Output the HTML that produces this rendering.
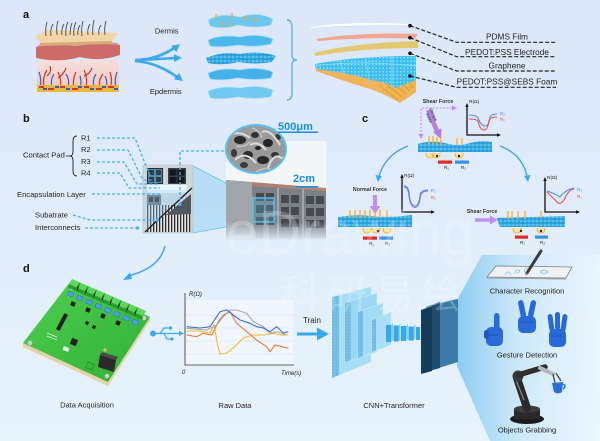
<!DOCTYPE html>
<html><head><meta charset="utf-8"><style>
html,body{margin:0;padding:0;background:#e0ebf9;}
svg{display:block;}
text{font-family:"Liberation Sans",Arial,sans-serif;}
</style></head><body>
<svg width="600" height="441" viewBox="0 0 600 441" xmlns="http://www.w3.org/2000/svg">
<defs>
<linearGradient id="bg" x1="0" y1="0" x2="0" y2="1">
<stop offset="0" stop-color="#dbe6f8"/><stop offset="0.5" stop-color="#e1edfa"/><stop offset="1" stop-color="#e6f3fb"/>
</linearGradient>
<pattern id="foam" width="4" height="4" patternUnits="userSpaceOnUse">
<rect width="4" height="4" fill="#2ea6e0"/><circle cx="1" cy="1" r="0.8" fill="#8edcf9"/><circle cx="3" cy="3" r="0.6" fill="#1b86c6"/><circle cx="3" cy="1" r="0.4" fill="#bfeafc"/>
</pattern>
<pattern id="dots" width="3.5" height="3.5" patternUnits="userSpaceOnUse">
<rect width="3.5" height="3.5" fill="#3cc0ef"/><circle cx="1.7" cy="1.7" r="0.8" fill="#9fe2fa"/>
</pattern>
<pattern id="stripes" width="3" height="3" patternUnits="userSpaceOnUse">
<rect width="3" height="3" fill="#e8e8e8"/><rect width="1.3" height="3" fill="#2a2a2a"/>
</pattern>
<pattern id="grid" width="3" height="3" patternUnits="userSpaceOnUse">
<rect width="3" height="3" fill="#79c3e8"/><path d="M0,0H3M0,0V3" stroke="#5aa8d4" stroke-width="0.5"/>
</pattern>
<linearGradient id="beam" x1="0" y1="0" x2="1" y2="0">
<stop offset="0" stop-color="#7cc6ef" stop-opacity="0.85"/><stop offset="0.45" stop-color="#c4e6f9" stop-opacity="0.7"/><stop offset="1" stop-color="#eef8fe" stop-opacity="0.6"/>
</linearGradient>
<linearGradient id="skin" x1="0" y1="0" x2="0" y2="1">
<stop offset="0" stop-color="#f6e0dc"/><stop offset="1" stop-color="#efc7c4"/>
</linearGradient>
<linearGradient id="arm" x1="0" y1="0" x2="0" y2="1">
<stop offset="0" stop-color="#a27a6a"/><stop offset="0.4" stop-color="#c89c8a"/><stop offset="1" stop-color="#d9b4a2"/>
</linearGradient>
<linearGradient id="fade" x1="0" y1="0" x2="0" y2="1">
<stop offset="0" stop-color="#e0ecf8" stop-opacity="0"/><stop offset="1" stop-color="#e0ecf8" stop-opacity="1"/>
</linearGradient>
<linearGradient id="pcb" x1="0" y1="0" x2="1" y2="1">
<stop offset="0" stop-color="#4fd14f"/><stop offset="1" stop-color="#2fae35"/>
</linearGradient>
<clipPath id="sem"><ellipse cx="256" cy="149" rx="30" ry="24"/></clipPath>
</defs>

<rect width="600" height="441" fill="url(#bg)"/>

<!-- ============ PANEL A ============ -->
<text x="23" y="18" font-size="11" font-weight="bold" fill="#111">a</text>

<path d="M37,62 Q58,57 78,62 Q98,58 119,60 L119,87 L37,89 Z" fill="url(#skin)"/>
<path d="M44,88 Q42,78 47,70 M47,76 Q52,72 50,66 M60,88 Q62,80 58,72 M58,78 Q64,74 66,68 M74,88 Q72,80 76,72 M86,88 Q88,78 84,70 M84,76 Q90,74 92,68 M100,88 Q98,80 103,74 M110,88 Q113,80 110,72" stroke="#c9372c" stroke-width="1.2" fill="none"/>
<path d="M40,88 Q42,80 39,72 M52,88 Q50,80 54,74 M68,88 Q70,80 66,74 M80,88 Q82,82 80,76 M94,88 Q92,80 96,74 M106,88 Q108,82 105,76 M116,88 Q114,80 117,72" stroke="#3563cf" stroke-width="1.2" fill="none"/>
<rect x="37" y="85" width="82" height="7" fill="#e9b93d"/>
<path d="M39,87 h5 M48,89 h6 M60,87 h5 M72,89 h6 M84,87 h5 M96,89 h6 M108,87 h6" stroke="#d8322a" stroke-width="2"/>
<path d="M43,89 h4 M55,87 h4 M66,89 h4 M78,87 h4 M90,89 h4 M102,87 h4 M114,89 h4" stroke="#2c5fd0" stroke-width="2"/>
<path d="M36,47 Q56,43 76,46 Q96,42 120,45 L120,55 Q100,62 80,57 Q60,63 36,58 Z" fill="#cd6b69"/>
<path d="M36,47 Q56,43 76,46 Q96,42 120,45 L117,43 Q96,40 76,43 Q56,41 40,44 Z" fill="#e19a93"/>
<path d="M35,36 L48,30 L118,33 L112,41 L40,43 Z" fill="#f3d5a8"/>
<path d="M40,43 L112,41 L112,44 L40,46 Z" fill="#d6ad78"/>
<path d="M46,36 Q45,28 47,22 M51,36 Q50,29 53,24 M57,35 Q56,27 58,21 M62,35 Q61,29 64,24 M66,36 Q65,28 68,22 M70,35 Q70,29 72,23 M74,36 Q73,28 76,22 M78,35 Q77,30 80,25 M82,36 Q81,28 83,21 M88,35 Q87,29 90,24 M93,35 Q92,28 94,20 M99,35 Q98,29 101,25 M105,35 Q104,28 106,21" stroke="#4a4a4a" stroke-width="0.9" fill="none"/>

<text x="166.7" y="33.5" font-size="7.5" text-anchor="middle" fill="#222">Dermis</text>
<text x="165.7" y="94" font-size="7.5" text-anchor="middle" fill="#222">Epdermis</text>
<path d="M135,60 C150,60 164,55 174,48" stroke="#3aa8ea" stroke-width="2.6" fill="none"/>
<polygon points="180,44 176.3,52.1 171.3,45.9" fill="#3aa8ea"/>
<path d="M137,60 C150,59 164,59 175,58" stroke="#3aa8ea" stroke-width="2.6" fill="none"/>
<polygon points="182,58 174,54 174,62" fill="#3aa8ea"/>
<path d="M135,61 C150,62 165,68 177,77" stroke="#3aa8ea" stroke-width="2.6" fill="none"/>
<polygon points="183,81 174.2,79.4 179,73" fill="#3aa8ea"/>

<path d="M208,20 Q222,12 240,17 Q258,11 273,19 L271,25 Q255,29 238,25 Q222,30 210,26 Z" fill="#6cc6ef" stroke="#a8e1f8" stroke-width="0.8"/>
<path d="M216,14 v6 M222,22 v4 M232,13 v5 M248,18 h-6 M258,20 h-6 M229,23 v4" stroke="#f2a623" stroke-width="1.2"/>
<path d="M208,40 Q222,34 240,37 Q258,33 273,39 L271,44 Q255,48 238,45 Q222,48 210,46 Z" fill="#4db8ee" stroke="#9ddcf7" stroke-width="0.8"/>
<path d="M206,58 Q222,51 240,54 Q258,50 276,56 L272,62 Q255,65 238,62 Q222,66 208,63 Z" fill="url(#foam)"/>
<path d="M208,73 Q222,67 240,70 Q258,66 273,72 L271,78 Q255,81 238,78 Q222,81 210,79 Z" fill="#45b1ea" stroke="#9ddcf7" stroke-width="0.8"/>
<path d="M208,91 Q222,85 240,88 Q258,84 273,90 L271,97 Q255,100 238,97 Q222,100 210,98 Z" fill="#71c8f1" stroke="#b0e4f9" stroke-width="0.8"/>
<path d="M287,20 Q292,20 292,28 L292,55 Q292,60 297,60 Q292,60 292,65 L292,93 Q292,100 287,100" stroke="#5ab4ea" stroke-width="1.4" fill="none"/>

<path d="M311,27 Q350,21 409,24 L409,26.5 Q350,25 312,29 Z" fill="#ffffff"/>
<path d="M312,28.5 Q350,25 409,26" stroke="#b8dcf5" stroke-width="0.8" fill="none"/>
<path d="M316,39 Q362,32 418,34 L415,38.5 Q365,37 318,41 Z" fill="#f2a58f"/>
<path d="M314,53 Q352,43 418,41 L418,48 Q362,48 316,56 Z" fill="#e3c259" opacity="0.85"/>
<path d="M315,66 Q355,58 416,57 L416,92 Q408,98 400,103 Q385,94 370,89 Q340,80 316,71 Z" fill="#f0b45c"/>
<path d="M380,86 L398,100 M386,84 L402,97 M392,82 L406,94 M398,80 L410,91 M404,78 L414,88" stroke="#d9a31f" stroke-width="1"/>
<path d="M315,64 Q355,56 416,56 L416,80 Q405,84 396,88 Q385,82 372,80 Q345,72 316,69 Z" fill="url(#dots)"/>
<path d="M340,60 L345,76 M365,57 L370,83 M392,56 L392,86 M316,66 Q355,60 416,66" stroke="#7fd9f7" stroke-width="1" fill="none"/>

<g stroke="#222" stroke-width="1.2" stroke-dasharray="4 2" fill="none">
<path d="M410,25.7 L456.7,42.3 H556"/>
<path d="M410,37.7 L456.7,56.7 H556"/>
<path d="M410,53.3 L456.7,71 H556"/>
<path d="M410,76 L456.7,87.3 H556"/>
</g>
<circle cx="410" cy="25.7" r="1.8" fill="#111"/><circle cx="410" cy="37.7" r="1.8" fill="#111"/>
<circle cx="410" cy="53.3" r="1.8" fill="#111"/><circle cx="410" cy="76" r="1.8" fill="#111"/>
<text x="507" y="39.5" font-size="8.3" text-anchor="middle" fill="#222">PDMS Film</text>
<text x="507" y="55" font-size="8.3" text-anchor="middle" fill="#222">PEDOT:PSS Electrode</text>
<text x="507" y="68.5" font-size="8.3" text-anchor="middle" fill="#222">Graphene</text>
<text x="507" y="84.5" font-size="8.3" text-anchor="middle" fill="#222">PEDOT:PSS@SEBS Foam</text>

<!-- ============ PANEL B ============ -->
<text x="23" y="122" font-size="11" font-weight="bold" fill="#111">b</text>
<text x="23" y="157.5" font-size="7.6" fill="#222">Contact Pad</text>
<path d="M66,156 H70" stroke="#222" stroke-width="0.8"/>
<path d="M77,136 Q73,136 73,141 L73,151 Q73,156 70,156 Q73,156 73,161 L73,171 Q73,176 77,176" stroke="#222" stroke-width="0.9" fill="none"/>
<text x="81" y="140.5" font-size="7.5" fill="#222">R1</text>
<text x="81" y="152" font-size="7.5" fill="#222">R2</text>
<text x="81" y="164" font-size="7.5" fill="#222">R3</text>
<text x="81" y="175.5" font-size="7.5" fill="#222">R4</text>
<text x="17" y="197" font-size="7.6" fill="#222">Encapsulation Layer</text>
<text x="35" y="217.5" font-size="7.6" fill="#222">Subatrate</text>
<text x="35" y="230" font-size="7.6" fill="#222">Interconnects</text>

<polygon points="193,166 253,197 253,222 193,233" fill="#6cc7f2" opacity="0.35"/>
<path d="M193,166 L253,197 M193,233 L253,222" stroke="#5fc1f0" stroke-width="0.8"/>

<rect x="143" y="165" width="50" height="68" fill="#cfd4d9" stroke="#b5bcc3" stroke-width="0.6"/>
<rect x="146" y="205" width="45" height="27" fill="url(#stripes)"/>
<polygon points="166,215 191,194 191,214" fill="#4f565d"/>
<rect x="147" y="168" width="16" height="16" fill="#1f2a31"/>
<rect x="148.5" y="169.5" width="6" height="6" fill="#2e3e49" stroke="#6fcaf2" stroke-width="0.6"/>
<rect x="155.5" y="169.5" width="6" height="6" fill="#2e3e49" stroke="#6fcaf2" stroke-width="0.6"/>
<rect x="148.5" y="176.5" width="6" height="6" fill="#2e3e49" stroke="#6fcaf2" stroke-width="0.6"/>
<rect x="155.5" y="176.5" width="6" height="6" fill="#2e3e49" stroke="#6fcaf2" stroke-width="0.6"/>
<rect x="168" y="168" width="18" height="16" fill="#3a3f44"/>
<rect x="169.5" y="169.5" width="7" height="6" fill="#15181b"/><rect x="177.5" y="169.5" width="7" height="6" fill="#15181b"/>
<rect x="169.5" y="177" width="7" height="6" fill="#15181b"/><rect x="177.5" y="177" width="7" height="6" fill="#15181b"/>
<rect x="147" y="185" width="40" height="8" fill="#e9f4fb"/>
<rect x="147" y="195" width="14" height="10" fill="#5d646b"/>
<rect x="149" y="197" width="4" height="5" fill="#1c1f22"/><rect x="155" y="197" width="4" height="5" fill="#1c1f22"/>
<polygon points="145,233 145,190 191,190" fill="#9fd8f5" opacity="0.35"/>
<path d="M145,232 L192,188" stroke="#1a1a1a" stroke-width="1.3"/>

<g stroke="#45b0f0" stroke-width="1.3" stroke-dasharray="3 2" fill="none">
<path d="M97,138 H135 L150,176"/>
<path d="M97,150 H128 L143,180 H152"/>
<path d="M97,162 H124 L137,184 H158"/>
<path d="M97,173 H120 L129,188 H160"/>
<path d="M92,194 H160"/>
<path d="M73,215 L90,220 H158"/>
<path d="M85,228 H137"/>
<path d="M180,205 V151 H227"/>
</g>
<rect x="178.5" y="203" width="3" height="3" fill="#45b0f0"/>
<rect x="156" y="218.5" width="3" height="3" fill="#45b0f0"/>
<rect x="136" y="226.5" width="3" height="3" fill="#45b0f0"/>

<!-- wrist photo -->
<rect x="226" y="141" width="100" height="50" fill="#f3f5f7"/>
<polygon points="226,180 326,188 326,240 226,240" fill="url(#arm)"/>
<polygon points="226,180 252,182 254,240 226,240" fill="#a2a5aa"/>
<path d="M252,186 L326,191 L326,239 L254,239 Z" fill="#7c8188"/>
<g fill="#464a50">
<rect x="256" y="193" width="8" height="8"/><rect x="266" y="193" width="8" height="8"/>
<rect x="256" y="205" width="8" height="8"/><rect x="266" y="205" width="8" height="8"/>
<rect x="256" y="217" width="8" height="8"/><rect x="266" y="217" width="8" height="8"/>
<rect x="281" y="195" width="8" height="8"/><rect x="291" y="195" width="8" height="8"/>
<rect x="281" y="207" width="8" height="8"/><rect x="291" y="207" width="8" height="8"/>
<rect x="281" y="219" width="8" height="8"/><rect x="291" y="219" width="8" height="8"/>
<rect x="306" y="196" width="8" height="8"/><rect x="316" y="196" width="8" height="8"/>
<rect x="306" y="208" width="8" height="8"/><rect x="316" y="208" width="8" height="8"/>
<rect x="306" y="220" width="8" height="8"/><rect x="316" y="220" width="8" height="8"/>
</g>
<path d="M278,188 V239 M303,189 V239" stroke="#aeb3b9" stroke-width="1.5"/>
<rect x="253" y="198" width="21" height="24" fill="#57c3f2" fill-opacity="0.25" stroke="#57c3f2" stroke-width="1.4"/>
<rect x="226" y="222" width="100" height="19" fill="url(#fade)"/>
<text x="293" y="182" font-size="11" font-weight="bold" fill="#1a8fe0">2cm</text>
<rect x="296" y="186" width="22" height="1.5" fill="#1a8fe0"/>

<!-- SEM -->
<ellipse cx="256" cy="149" rx="30" ry="24" fill="#9a9a9a"/>
<g clip-path="url(#sem)">
<ellipse cx="240" cy="140" rx="6" ry="4" fill="#2a2a2a"/><ellipse cx="255" cy="135" rx="4" ry="3" fill="#333"/>
<ellipse cx="268" cy="143" rx="5" ry="4" fill="#262626"/><ellipse cx="248" cy="155" rx="5" ry="4" fill="#2e2e2e"/>
<ellipse cx="263" cy="160" rx="6" ry="4" fill="#2a2a2a"/><ellipse cx="275" cy="155" rx="4" ry="3" fill="#333"/>
<ellipse cx="234" cy="153" rx="3" ry="4" fill="#3a3a3a"/><ellipse cx="258" cy="148" rx="3" ry="2" fill="#1f1f1f"/>
<ellipse cx="278" cy="137" rx="3" ry="3" fill="#3a3a3a"/><ellipse cx="244" cy="165" rx="4" ry="3" fill="#3a3a3a"/>
<path d="M230,135 Q240,130 250,138 M250,145 Q258,140 266,150 M235,160 Q245,150 256,163 M262,132 Q270,128 280,145 M268,168 Q274,150 284,160" stroke="#dcdcdc" stroke-width="2" fill="none"/>
<path d="M236,146 Q244,148 250,142 M252,128 Q260,130 262,138 M256,172 Q266,166 272,170" stroke="#c4c4c4" stroke-width="1.5" fill="none"/>
</g>
<ellipse cx="256" cy="149" rx="30" ry="24" fill="none" stroke="#56c1f2" stroke-width="2"/>
<text x="278" y="130" font-size="11" font-weight="bold" fill="#1a8fe0">500μm</text>
<rect x="278" y="131.5" width="40" height="1.5" fill="#1a8fe0"/>

<path d="M165,246 Q160,268 128,276" stroke="#3aa8ea" stroke-width="1.5" fill="none"/>
<polygon points="123,280 130,272.5 132,279" fill="#3aa8ea"/>

<!-- ============ PANEL C ============ -->
<text x="362" y="122" font-size="11" font-weight="bold" fill="#111">c</text>
<text x="438" y="103" font-size="5.3" font-weight="bold" fill="#333" text-anchor="middle">Shear Force</text>
<path d="M422,108 H453 M421,109 V134" stroke="#c08ef0" stroke-width="1.1" stroke-dasharray="2 1.5"/>
<polygon points="457,108 452,105.5 452,110.5" fill="#c08ef0"/>
<polygon points="421,139 418.5,134 423.5,134" fill="#c08ef0"/>
<path d="M428,110 L437,131" stroke="#b47de8" stroke-width="4.5"/>
<polygon points="441,139 433,132 441.5,128.5" fill="#b47de8"/>
<text transform="translate(429.5,109) rotate(66)" font-size="3.6" font-weight="bold" fill="#333">Oblique</text>
<text transform="translate(426,114) rotate(66)" font-size="3.6" font-weight="bold" fill="#333">Force</text>
<path d="M418,144 Q430,140 445,143 Q458,147 470,143 Q482,140 492,142 L492,152 L418,152 Z" fill="url(#foam)"/>
<path d="M429,136v8 M433,136v8 M437,137v8 M441,137v8 M457,138v7 M462,138v7" stroke="#f4b335" stroke-width="1.4"/>
<path d="M426,153 q0,5 4,5 q4,0 4,-5 M432,153 q0,5 4,5 q4,0 4,-5 M455,153 q0,5 4,5 q4,0 4,-5" stroke="#f0b030" stroke-width="1" fill="#f8e7a8"/>
<circle cx="437" cy="156" r="1.2" fill="#222"/><circle cx="459" cy="156" r="1.2" fill="#222"/>
<rect x="438" y="160.5" width="14" height="3.2" fill="#e02a2a"/><rect x="455" y="160.5" width="14" height="3.2" fill="#3a8fe8"/>
<text x="444" y="169" font-size="4.5" fill="#222">R₁</text><text x="461" y="169" font-size="4.5" fill="#222">R₂</text>
<path d="M467,106 V135 H498" stroke="#111" stroke-width="1.3" fill="none"/>
<polygon points="467,103 465.3,107 468.7,107" fill="#111"/><polygon points="501,135 497,133.3 497,136.7" fill="#111"/>
<text x="469" y="103" font-size="4.8" fill="#222">R(Ω)</text>
<path d="M469,115 Q476,115 478,118 Q481,126 485,126 Q489,126 490,117 Q492,114 497,114" stroke="#4a8fe8" stroke-width="1.1" fill="none"/>
<path d="M469,119 Q476,119 478,121 Q480,130 484,130 Q488,130 489,120 Q491,117 497,117" stroke="#e8504a" stroke-width="1.1" fill="none"/>
<text x="500" y="115" font-size="4.5" fill="#4a8fe8">R₂</text><text x="500" y="121" font-size="4.5" fill="#e8504a">R₁</text>

<path d="M408,146 Q386,154 379,176" stroke="#3aa8ea" stroke-width="1.4" fill="none"/>
<polygon points="378,182 375.5,175 382,176" fill="#3aa8ea"/>
<path d="M500,146 Q522,154 527,176" stroke="#3aa8ea" stroke-width="1.4" fill="none"/>
<polygon points="528,182 524,176 530.5,175" fill="#3aa8ea"/>

<text x="370" y="191" font-size="5.3" font-weight="bold" fill="#333" text-anchor="middle">Normal Force</text>
<path d="M375,195 V207" stroke="#c08ef0" stroke-width="4"/>
<polygon points="369.5,206 380.5,206 375,214" fill="#c08ef0"/>
<path d="M338,217 Q355,214 372,216 Q390,218 412,215 L412,227 L338,227 Z" fill="url(#foam)"/>
<path d="M350,210v8 M355,210v8 M360,210v8 M365,210v8 M370,210v8 M375,210v8 M380,210v8 M387,210v7" stroke="#f4b335" stroke-width="1.4"/>
<path d="M363,228 q0,5 4,5 q4,0 4,-5 M372,228 q0,5 4,5 q4,0 4,-5 M383,228 q0,5 4,5 q4,0 4,-5" stroke="#f0b030" stroke-width="1" fill="#f8e7a8"/>
<circle cx="378" cy="231" r="1.3" fill="#222"/>
<rect x="363" y="236.5" width="14" height="3.2" fill="#e02a2a"/><rect x="379" y="236.5" width="14" height="3.2" fill="#3a8fe8"/>
<text x="369" y="245" font-size="4.5" fill="#222">R₁</text><text x="385" y="245" font-size="4.5" fill="#222">R₂</text>
<path d="M402,177 V212 H432" stroke="#111" stroke-width="1.3" fill="none"/>
<polygon points="402,174 400.3,178 403.7,178" fill="#111"/><polygon points="435,212 431,210.3 431,213.7" fill="#111"/>
<text x="404" y="177" font-size="4.8" fill="#222">R(Ω)</text>
<path d="M404,186 Q408,186 409,192 Q410,206 415,206 Q419,206 420,195 Q421,190 428,190" stroke="#4a8fe8" stroke-width="1.1" fill="none"/>
<path d="M404,187 Q407.5,187 408.5,193 Q410,207.5 415,207.5 Q419.5,207.5 420.5,196 Q421.5,191 428,191" stroke="#8a6fd8" stroke-width="0.9" fill="none"/>
<text x="431" y="192" font-size="4.5" fill="#4a8fe8">R₂</text><text x="431" y="199" font-size="4.5" fill="#e8504a">R₁</text>

<text x="482" y="213" font-size="5.3" font-weight="bold" fill="#333" text-anchor="middle">Shear Force</text>
<path d="M475,220 H491" stroke="#c08ef0" stroke-width="3.5"/>
<polygon points="498,220 490,215.5 490,224.5" fill="#c08ef0"/>
<path d="M497,218 L565,216 L565,227 L500,227 Q498,222 497,218 Z" fill="url(#foam)"/>
<path d="M508,211v8 M512,211v8 M518,211v8 M525,211v8 M541,211v7" stroke="#f4b335" stroke-width="1.4"/>
<path d="M513,228 q0,5 4,5 q4,0 4,-5 M537,228 q0,5 4,5 q4,0 4,-5" stroke="#f0b030" stroke-width="1" fill="#f8e7a8"/>
<circle cx="521" cy="231" r="1.2" fill="#222"/><circle cx="541" cy="231" r="1.2" fill="#222"/>
<rect x="515" y="235.5" width="13" height="3.2" fill="#e02a2a"/><rect x="535" y="235.5" width="13" height="3.2" fill="#3a8fe8"/>
<text x="520" y="244" font-size="4.5" fill="#222">R₁</text><text x="540" y="244" font-size="4.5" fill="#222">R₂</text>
<path d="M545,180 V212 H577" stroke="#111" stroke-width="1.3" fill="none"/>
<polygon points="545,177 543.3,181 546.7,181" fill="#111"/><polygon points="580,212 576,210.3 576,213.7" fill="#111"/>
<text x="547" y="179" font-size="4.8" fill="#222">R(Ω)</text>
<path d="M547,191 Q556,194 560,197 Q565,190 574,188" stroke="#4a8fe8" stroke-width="1.1" fill="none"/>
<path d="M547,192 Q553,198 558,203 Q562,205 566,196 Q569,190 574,189" stroke="#e8504a" stroke-width="1.1" fill="none"/>
<text x="577" y="191" font-size="4.5" fill="#4a8fe8">R₂</text><text x="577" y="198" font-size="4.5" fill="#e8504a">R₁</text>

<!-- ============ PANEL D ============ -->
<text x="23" y="272" font-size="11" font-weight="bold" fill="#111">d</text>

<polygon points="23,343 108,382 150,317 150,321 108,386 23,347" fill="#e4d2a8"/>
<polygon points="70,282 150,317 108,382 23,343" fill="url(#pcb)"/>
<circle cx="72" cy="288" r="2.3" fill="#cfcfcf"/><circle cx="144" cy="318" r="2.3" fill="#cfcfcf"/>
<circle cx="107" cy="376" r="2.3" fill="#cfcfcf"/><circle cx="30" cy="343" r="2.3" fill="#cfcfcf"/>
<polygon points="72,279 146,311 142.7,316.1 68.7,284.1" fill="#5bd65e"/>
<polygon points="68.7,284.1 142.7,316.1 142.7,320 68.7,288" fill="#2b9a2f"/>
<g stroke="#2b8f2f" stroke-width="0.7">
<path d="M80.2,282.6 l-3.3,5.1 v4"/><path d="M88.4,286.1 l-3.3,5.1 v4"/><path d="M96.7,289.7 l-3.3,5.1 v4"/>
<path d="M104.9,293.2 l-3.3,5.1 v4"/><path d="M113.1,296.8 l-3.3,5.1 v4"/><path d="M121.3,300.3 l-3.3,5.1 v4"/>
<path d="M129.6,303.9 l-3.3,5.1 v4"/><path d="M137.8,307.4 l-3.3,5.1 v4"/>
</g>
<g fill="#4aa0e2" stroke="#2a6fb0" stroke-width="0.4">
<rect x="-3" y="-2.2" width="6" height="4.4" transform="translate(70.7,294.2) rotate(23)"/>
<rect x="-3" y="-2.2" width="6" height="4.4" transform="translate(79.9,298.2) rotate(23)"/>
<rect x="-3" y="-2.2" width="6" height="4.4" transform="translate(89.2,302.2) rotate(23)"/>
<rect x="-3" y="-2.2" width="6" height="4.4" transform="translate(98.4,306.2) rotate(23)"/>
<rect x="-3" y="-2.2" width="6" height="4.4" transform="translate(107.7,310.2) rotate(23)"/>
<rect x="-3" y="-2.2" width="6" height="4.4" transform="translate(116.9,314.2) rotate(23)"/>
<rect x="-3" y="-2.2" width="6" height="4.4" transform="translate(126.2,318.2) rotate(23)"/>
<rect x="-3" y="-2.2" width="6" height="4.4" transform="translate(135.4,322.2) rotate(23)"/>
</g>
<g fill="#222">
<rect x="-2.2" y="-2.2" width="4.4" height="4.4" transform="translate(73,304) rotate(23)"/>
<rect x="-2.2" y="-2.2" width="4.4" height="4.4" transform="translate(88,310) rotate(23)"/>
<rect x="-2.2" y="-2.2" width="4.4" height="4.4" transform="translate(103,316) rotate(23)"/>
<rect x="-2.2" y="-2.2" width="4.4" height="4.4" transform="translate(118,323) rotate(23)"/>
<rect x="-2" y="-9" width="4" height="18" transform="translate(62,322) rotate(28)"/>
<rect x="-1.6" y="-1.6" width="3.2" height="3.2" transform="translate(87,323) rotate(23)"/>
<rect x="-1.6" y="-1.6" width="3.2" height="3.2" transform="translate(94,327) rotate(23)"/>
<rect x="-3.2" y="-3.2" width="6.4" height="6.4" transform="translate(74,342) rotate(23)"/>
</g>
<path d="M47,333 l10,4 M47,336 l10,4" stroke="#eaeaea" stroke-width="0.8"/>
<rect x="-3" y="-2" width="6" height="4" fill="#eee" transform="translate(66,349) rotate(23)"/>
<polygon points="100,355 116,360 114,372 98,367" fill="#2a2a2a"/>
<polygon points="100,355 116,360 118,357 102,352" fill="#4a4a4a"/>
<rect x="-3.5" y="-3" width="7" height="6" fill="#35b83a" stroke="#1f7f23" stroke-width="0.5" transform="translate(90,366) rotate(23)"/>
<rect x="-1.5" y="-1.5" width="3" height="3" fill="#d8c070" transform="translate(105,350) rotate(23)"/>
<text x="87" y="407.5" font-size="7.5" text-anchor="middle" fill="#222">Data Acquisition</text>

<circle cx="153" cy="333.5" r="3" fill="#3aa8ea"/>
<path d="M153,333.5 H180 M160,333.5 L164,328 H170 M164,333.5 L167,339 H171" stroke="#3aa8ea" stroke-width="1.2" fill="none"/>
<rect x="169" y="326.5" width="3" height="3" fill="#3aa8ea"/><circle cx="172" cy="339" r="1.6" fill="#3aa8ea"/>
<polygon points="184,333.5 179,331 179,336" fill="#3aa8ea"/>

<rect x="186" y="300" width="107" height="65" fill="#f3f8fd" opacity="0.7"/>
<path d="M186,315 H293 M186,328 H293 M186,341 H293 M186,354 H293" stroke="#dde5ee" stroke-width="0.7"/>
<path d="M185,293 V365 H294" stroke="#333" stroke-width="0.8" fill="none"/>
<text x="189" y="296" font-size="6" font-style="italic" fill="#222">R(Ω)</text>
<text x="182" y="374" font-size="6" font-style="italic" fill="#222">0</text>
<text x="281" y="375" font-size="6" font-style="italic" fill="#222">Time(s)</text>
<polyline points="186.7,331 200,331 210,333 214,325 218,346.7 220,354 226.7,353 233.3,348 243.3,338 253.3,335 263.3,335 273.3,333.3 280,335 288.3,335" fill="none" stroke="#f7b92a" stroke-width="1.1"/>
<polyline points="186.7,335 196.7,336.7 203.3,333.3 211.7,335 218.3,321.7 223.3,315 230,311.7 236.7,323.3 246.7,331.7 256.7,340 266.7,346.7 270,351.7 275,345 281.7,346.7 288.3,348.3" fill="none" stroke="#ee7a30" stroke-width="1.1"/>
<polyline points="186.7,328.3 206.7,330 216.7,325 223.3,316.7 230,310 236.7,310 246.7,313.3 253.3,321.7 263.3,326.7 270,333.3 276.7,331.7 286.7,335" fill="none" stroke="#a8a8a8" stroke-width="1.1"/>
<polyline points="186.7,326.7 200,328 210,326.7 220,311.7 226.7,310 233.3,315 240,320 250,323.3 256.7,326.7 263.3,328 270,331.7 276.7,326.7 283.3,333 288.3,331.7" fill="none" stroke="#3f6fd6" stroke-width="1.1"/>
<text x="235" y="408" font-size="7.5" text-anchor="middle" fill="#222">Raw Data</text>

<text x="312" y="323" font-size="8" text-anchor="middle" fill="#222">Train</text>
<path d="M297,334 H320" stroke="#3aa8ea" stroke-width="3"/>
<polygon points="317,327.5 329,334 317,340.5" fill="#3aa8ea"/>

<polygon points="457,300 482,255 600,255 600,441 490,441 457,366" fill="url(#beam)"/>

<polygon points="332,297 371,287 371,362 332,378" fill="#a6def5"/>
<polygon points="332,297 339,295.5 339,375 332,378" fill="url(#grid)"/>
<polygon points="345,303 377,293 377,352 345,362" fill="#9bd8f3" stroke="#c9ecfa" stroke-width="0.5"/>
<polygon points="345,303 351,301.5 351,360 345,362" fill="url(#grid)"/>
<polygon points="358,312 383,303 383,348 358,358" fill="#a3dbf4" stroke="#c9ecfa" stroke-width="0.5"/>
<polygon points="358,312 363,310.5 363,356 358,358" fill="url(#grid)"/>
<polygon points="372,320 391,312 391,345 372,352" fill="#aadff6" stroke="#c9ecfa" stroke-width="0.5"/>
<polygon points="372,320 376,318.5 376,350.5 372,352" fill="url(#grid)"/>
<g>
<rect x="386" y="325" width="5" height="17" fill="#38a7e5"/><polygon points="391,325 393,323 393,340 391,342" fill="#7fcff4"/>
<rect x="393.5" y="325.5" width="5" height="16" fill="#38a7e5"/><polygon points="398.5,325.5 400.5,323.5 400.5,339.5 398.5,341.5" fill="#7fcff4"/>
<rect x="401" y="326" width="5" height="15" fill="#38a7e5"/><polygon points="406,326 408,324 408,339 406,341" fill="#7fcff4"/>
<rect x="408.5" y="326.5" width="5" height="14" fill="#38a7e5"/><polygon points="413.5,326.5 415.5,324.5 415.5,338.5 413.5,340.5" fill="#7fcff4"/>
<rect x="416" y="327" width="4" height="13" fill="#38a7e5"/>
</g>
<polygon points="432,305 458,299 458,362 432,370" fill="#3b7ba5"/>
<polygon points="426,307 440,302 440,368 426,372" fill="#1f4d6e"/>
<polygon points="421,310 432,306 432,371 421,374" fill="#163c59"/>
<path d="M421,310 L432,306 M426,307 L440,302 M432,305 L458,299" stroke="#6aa6cc" stroke-width="0.6"/>
<text x="394" y="408" font-size="7.5" text-anchor="middle" fill="#222">CNN+Transformer</text>

<polygon points="487,277 496,266 572,267 566,278" fill="#eef2f5" stroke="#7a7f85" stroke-width="0.8"/>
<polygon points="487,277 566,278 566,279.5 487,278.5" fill="#9aa0a6"/>
<path d="M505,275 q3,-6 6,0 M515,274 q0,-5 4,-4 q2,2 -2,3 M527,273 q-4,-1 -2,-4 q3,-1 5,1 M540,272 q4,-4 8,0 q-4,3 -8,0" stroke="#8fd0f2" stroke-width="1" fill="none"/>
<path d="M527,273 L541,251" stroke="#3a3d42" stroke-width="3" stroke-linecap="round"/>
<path d="M527,273 L525.5,275.5" stroke="#888" stroke-width="1.2"/>
<text x="527" y="293.5" font-size="7.5" text-anchor="middle" fill="#222">Character Recognition</text>

<g fill="#2a6ad8">
<rect x="486" y="327" width="17" height="19" rx="5"/>
<rect x="494" y="313" width="5.5" height="18" rx="2.7"/>
<rect x="484" y="330" width="5" height="9" rx="2.5" fill="#1f58c0"/>
<rect x="518" y="316" width="18" height="17" rx="5"/>
<rect x="-2.7" y="-9" width="5.5" height="18" rx="2.7" transform="translate(522,309) rotate(-12)"/>
<rect x="-2.7" y="-9" width="5.5" height="18" rx="2.7" transform="translate(532,309) rotate(12)"/>
<rect x="549" y="329" width="17" height="18" rx="5"/>
<rect x="-2.5" y="-9" width="5" height="18" rx="2.5" transform="translate(551,323) rotate(-8)"/>
<rect x="-2.5" y="-9" width="5" height="18" rx="2.5" transform="translate(557.5,321)"/>
<rect x="-2.5" y="-9" width="5" height="18" rx="2.5" transform="translate(564,323) rotate(8)"/>
</g>
<path d="M489,335 h10 M521,322 h12 M551,336 h12" stroke="#1d50b0" stroke-width="0.8"/>
<text x="527" y="357.5" font-size="7.5" text-anchor="middle" fill="#222">Gesture Detection</text>

<ellipse cx="527" cy="419" rx="17" ry="5" fill="#1c1c1c"/>
<rect x="514" y="409" width="26" height="10" fill="#2a2a2a"/>
<ellipse cx="527" cy="409" rx="13" ry="3.5" fill="#3d3d3d"/>
<path d="M527,408 L517,378" stroke="#2b2b2b" stroke-width="8" stroke-linecap="round"/>
<path d="M524,400 L516,380" stroke="#8a8e93" stroke-width="1.2"/>
<circle cx="518" cy="376" r="5.5" fill="#3a3a3a"/>
<path d="M518,375 L545,367" stroke="#2e2e2e" stroke-width="5.5" stroke-linecap="round"/>
<path d="M540,368 L553,374" stroke="#b5b9bd" stroke-width="4" stroke-linecap="round"/>
<path d="M553,374 L555,383 M556,373 L561,381" stroke="#555" stroke-width="1.5"/>
<path d="M552,383 L563,382 L562,392 Q558,395 554,392 Z" fill="#2a6fd6"/>
<path d="M563,384 q4,2 0,5" stroke="#2a6fd6" stroke-width="1.5" fill="none"/>
<text x="527" y="432.5" font-size="7.5" text-anchor="middle" fill="#222">Objects Grabbing</text>

<!-- watermark -->
<text x="226" y="254" font-size="62" fill="#ffffff" opacity="0.22" textLength="248" lengthAdjust="spacingAndGlyphs">eDrawing</text>
<text x="280" y="308" font-size="40" fill="#ffffff" opacity="0.22" letter-spacing="7" style="font-family:'Liberation Sans','Noto Sans CJK SC',sans-serif">科研易绘</text>
</svg>
</body></html>
